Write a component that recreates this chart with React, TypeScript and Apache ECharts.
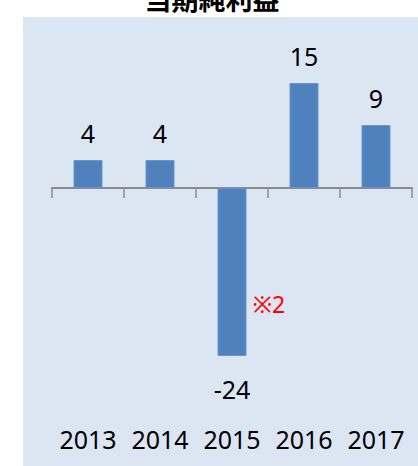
import React, { useEffect, useRef } from "react";
import * as echarts from "echarts";

const categories = ["2013", "2014", "2015", "2016", "2017"];
const values = [4, 4, -24, 15, 9];
const titleText = "当期純利益";
const noteText = "※2";
const noteCategory = "2015";
const noteValue = -16.6;

export default function App() {
  const ref = useRef<HTMLDivElement>(null);
  useEffect(() => {
    document.body.style.margin = "0";
    const chart = echarts.init(ref.current!, null, { renderer: "svg" });
    const font = "'Noto Sans', 'Noto Sans CJK JP', sans-serif";
    chart.setOption({
      animation: false,
      backgroundColor: "#ffffff",
      graphic: [
        {
          type: "rect",
          z: -10,
          shape: { x: 23, y: 17, width: 400, height: 460 },
          style: { fill: "#dce6f2" },
        },
        {
          type: "text",
          x: 212,
          y: 12,
          style: {
            text: titleText,
            fill: "#000",
            font: "bold 27px 'Noto Sans CJK JP', sans-serif",
            textAlign: "center",
            textVerticalAlign: "bottom",
          },
        },
      ],
      grid: { left: 52, right: 6, top: 48, bottom: 47 },
      xAxis: [
        {
          type: "category",
          data: categories,
          axisLine: { onZero: true, lineStyle: { color: "#8c8c8c", width: 2 } },
          axisTick: { show: true, length: 10, lineStyle: { color: "#8c8c8c", width: 1.5 } },
          axisLabel: { show: false },
        },
        {
          type: "category",
          data: categories,
          position: "bottom",
          axisLine: { show: false, onZero: false },
          axisTick: { show: false },
          axisLabel: {
            show: true,
            interval: 0,
            hideOverlap: false,
            color: "#000",
            fontSize: 25,
            fontFamily: font,
            margin: 7,
          },
        },
      ],
      yAxis: {
        type: "value",
        min: -33,
        max: 20,
        show: false,
        splitLine: { show: false },
      },
      series: [
        {
          type: "bar",
          xAxisIndex: 0,
          data: values.map((v) => ({
            value: v,
            label: {
              show: true,
              position: v >= 0 ? "top" : "bottom",
              distance: v >= 0 ? 15 : 20,
              color: "#000",
              fontSize: 25,
              fontFamily: font,
            },
          })),
          barWidth: 29,
          itemStyle: { color: "#4f81bd", borderColor: "#6a95c9", borderWidth: 1 },
          markPoint: {
            symbol: "circle",
            symbolSize: 0,
            data: [
              {
                coord: [noteCategory, noteValue],
                label: {
                  show: true,
                  formatter: noteText,
                  position: "inside",
                  offset: [37, 0],
                  color: "#ff0000",
                  fontSize: 23,
                  fontFamily: font,
                },
              },
            ],
          },
        },
      ],
    });
    return () => chart.dispose();
  }, []);
  return <div ref={ref} style={{ width: 418, height: 466 }} />;
}
